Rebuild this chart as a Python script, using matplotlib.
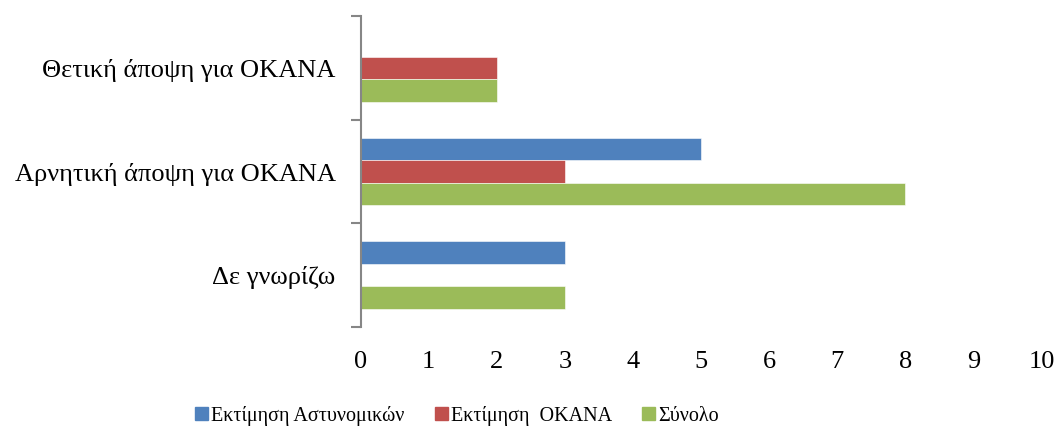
import matplotlib.pyplot as plt
from matplotlib.patches import Patch

plt.rcParams['font.family'] = ['Liberation Serif', 'DejaVu Serif']

categories = ['Δε γνωρίζω', 'Αρνητική άποψη για ΟΚΑΝΑ', 'Θετική άποψη για ΟΚΑΝΑ']
police = [3, 5, 0]
okana = [0, 3, 2]
total = [3, 8, 2]
series_names = ['Εκτίμηση Αστυνομικών', 'Εκτίμηση  ΟΚΑΝΑ', 'Σύνολο']
colors = ['#4F81BD', '#C0504D', '#9BBB59']

fig = plt.figure(figsize=(10.57, 4.33), dpi=100)
ax = fig.add_axes([0.3412, 0.2448, 0.6443, 0.7182])

w = 0.218
pos = range(len(categories))
for vals, off, c in zip([police, okana, total], [w, 0, -w], colors):
    ax.barh([p + off for p in pos], vals, height=w, color=c, edgecolor='white', linewidth=0.4)

ax.set_xlim(0, 10)
ax.set_ylim(-0.5, 2.5)
ax.set_xticks(range(0, 11))
ax.tick_params(axis='x', length=0, labelsize=19, pad=17)

# category labels centred, tick marks at the boundaries
ax.set_yticks([-0.5, 0.5, 1.5, 2.5])
ax.set_yticklabels([])
ax.set_yticks(list(pos), minor=True)
ax.set_yticklabels(categories, minor=True, fontsize=19)
ax.tick_params(axis='y', which='major', length=7, width=1.5, color='#868686')
ax.tick_params(axis='y', which='minor', length=0, pad=18)

for s in ['top', 'right', 'bottom']:
    ax.spines[s].set_visible(False)
ax.spines['left'].set_color('#868686')
ax.spines['left'].set_linewidth(1.5)

handles = [Patch(color=c) for c in colors]
fig.legend(handles, series_names, loc='center', bbox_to_anchor=(0.4324, 0.04), ncol=3,
           frameon=False, fontsize=14.5, handlelength=0.65, handleheight=0.65,
           handletextpad=0.15, columnspacing=1.5)

fig.savefig('out.png', dpi=100)
